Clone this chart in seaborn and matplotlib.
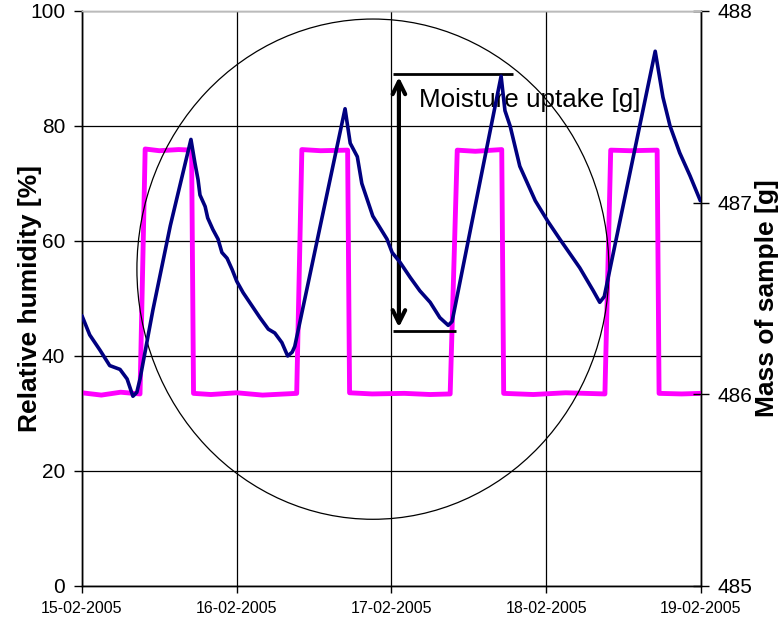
import seaborn as sns
import pandas as pd
import matplotlib.pyplot as plt
import matplotlib.dates as mdates
from matplotlib.patches import Ellipse

# relative humidity (left axis), hours from 15-02-2005 00:00
rh_hours = [0, 3, 6, 9.0, 9.8, 12, 15, 17.0, 17.3, 20, 24, 28, 33.3,
            34.1, 37, 41.2, 41.5, 45, 50, 54, 57.1,
            58.2, 61, 65.1, 65.4, 70, 75, 81.1,
            82.0, 85, 89.2, 89.5, 93, 96]
rh_vals = [33.6, 33.2, 33.7, 33.4, 76.0, 75.7, 75.9, 75.8, 33.5, 33.3, 33.6, 33.2, 33.5,
           75.9, 75.7, 75.8, 33.6, 33.4, 33.5, 33.3, 33.4,
           75.8, 75.6, 75.9, 33.5, 33.3, 33.6, 33.4,
           75.8, 75.7, 75.8, 33.5, 33.4, 33.5]

# mass of sample (right axis)
mass_hours = [0, 1.2, 2.8, 4.3, 5.9, 7.0, 7.9, 8.5, 9.0, 11.0, 13.7, 16.9,
              17.5, 18.0, 18.3, 19.1, 19.5, 20.3, 21.1, 21.7, 22.5, 23.3, 24.0,
              25.0, 26.4, 27.6, 28.9, 29.9, 31.0, 31.9, 32.6, 33.0,
              40.8,
              41.6, 42.7, 43.4, 44.2, 45.1, 46.2, 47.3, 48.1, 49.3, 50.9,
              52.4, 54.0, 55.5, 56.8,
              57.4, 65.0,
              65.6, 66.4, 67.9, 70.3, 72.3, 74.1, 77.2, 79.3, 80.3,
              81.0, 88.9,
              90.1, 91.2, 92.7, 94.3, 95.9]
mass_vals = [486.41, 486.31, 486.23, 486.15, 486.13, 486.08, 485.99, 486.01, 486.08, 486.44, 486.88, 487.33,
             487.21, 487.12, 487.04, 486.98, 486.92, 486.86, 486.81, 486.74, 486.71, 486.65, 486.59,
             486.53, 486.46, 486.40, 486.34, 486.32, 486.27, 486.20, 486.22, 486.25,
             487.49,
             487.31, 487.24, 487.10, 487.02, 486.93, 486.87, 486.81, 486.74, 486.69, 486.61,
             486.54, 486.48, 486.40, 486.36,
             486.38, 487.66,
             487.48, 487.40, 487.19, 487.01, 486.90, 486.81, 486.66, 486.54, 486.48,
             486.51, 487.79,
             487.55, 487.40, 487.26, 487.14, 487.01]

start = pd.Timestamp('2005-02-15')
rh = pd.DataFrame({'time': start + pd.to_timedelta(rh_hours, unit='h'), 'rh': rh_vals})
mass = pd.DataFrame({'time': start + pd.to_timedelta(mass_hours, unit='h'), 'mass': mass_vals})

sns.set_style('white')
plt.rcParams['font.family'] = ['Liberation Sans', 'DejaVu Sans']
plt.rcParams['text.color'] = 'black'
plt.rcParams['axes.labelcolor'] = 'black'
plt.rcParams['xtick.color'] = 'black'
plt.rcParams['ytick.color'] = 'black'

fig = plt.figure(figsize=(7.8, 6.28), dpi=100)
ax = fig.add_axes([0.1051, 0.0669, 0.7936, 0.9156])
ax2 = ax.twinx()

sns.lineplot(x='time', y='rh', data=rh, color='#FF00FF', lw=3.5, ax=ax, zorder=3)
sns.lineplot(x='time', y='mass', data=mass, color='#000080', lw=2.6, ax=ax2, zorder=3)

x0 = mdates.date2num(start)
ax.set_xlim(x0, x0 + 4)
ax.set_ylim(0, 100)
ax2.set_ylim(485, 488)
ax.set_yticks([0, 20, 40, 60, 80, 100])
ax2.set_yticks([485, 486, 487, 488])
ax.xaxis.set_major_locator(mdates.DayLocator())
ax.xaxis.set_major_formatter(mdates.DateFormatter('%d-%m-%Y'))
ax.grid(True, color='black', lw=0.9)
ax.set_axisbelow(True)

ax.set_xlabel('')
ax2.set_xlabel('')
ax.set_ylabel('Relative humidity [%]', fontsize=19, fontweight='bold')
ax2.set_ylabel('Mass of sample [g]', fontsize=19, fontweight='bold')
ax.yaxis.set_label_coords(-0.0646, 0.5)
ax2.yaxis.set_label_coords(1.0872, 0.5)
ax.tick_params(axis='y', labelsize=15, direction='out', length=6, width=1, left=True, pad=6)
ax.tick_params(axis='x', labelsize=11.5, direction='out', length=5, width=1, bottom=True, pad=6)
ax2.tick_params(axis='y', labelsize=15, direction='inout', length=12, width=1, right=True, pad=6)

for a in (ax, ax2):
    for s in a.spines.values():
        s.set_color('black')
        s.set_linewidth(1)
    a.spines['top'].set_color('#bbbbbb')

# circle round the cycles
ax.add_patch(Ellipse((x0 + 1.88, 55.1), 3.05, 87.0, fill=False, ec='black', lw=0.9, zorder=4))

# moisture uptake arrow
ax.hlines(89.0, x0 + 2.01, x0 + 2.785, color='black', lw=2, zorder=5)
ax.hlines(44.3, x0 + 2.01, x0 + 2.417, color='black', lw=2, zorder=5)
ax.annotate('', xy=(x0 + 2.048, 89.0), xytext=(x0 + 2.048, 44.5),
            arrowprops=dict(arrowstyle='<->,head_length=0.9,head_width=0.45', lw=3, color='black'),
            zorder=5)
ax.text(x0 + 2.178, 84.5, 'Moisture uptake [g]', fontsize=18.7, va='center', ha='left', zorder=6)

fig.savefig('out.png', dpi=100)
